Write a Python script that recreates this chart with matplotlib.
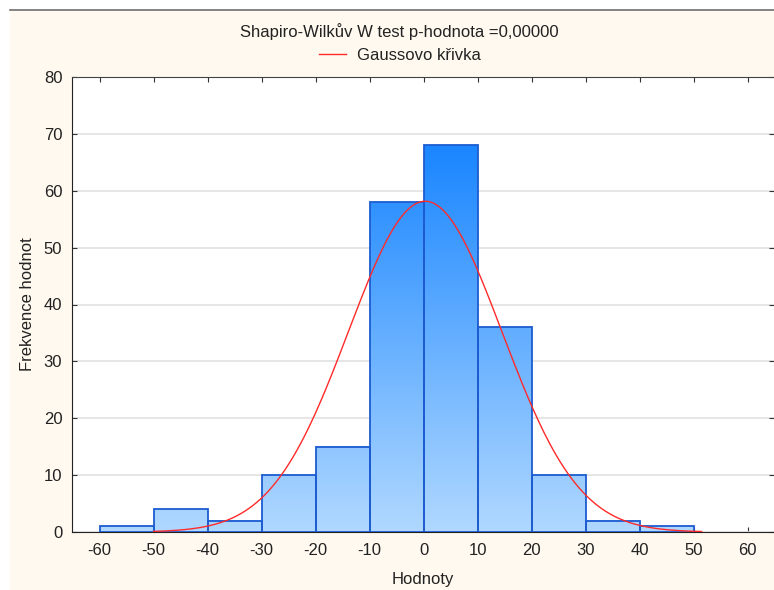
import matplotlib.pyplot as plt
import numpy as np
from matplotlib.colors import LinearSegmentedColormap
from matplotlib.patches import Rectangle
from matplotlib.lines import Line2D

plt.rcParams['font.family'] = ['Liberation Sans', 'DejaVu Sans']
plt.rcParams['axes.unicode_minus'] = False

# histogram data
bin_edges = [-60, -50, -40, -30, -20, -10, 0, 10, 20, 30, 40, 50]
counts = [1, 4, 2, 10, 15, 58, 68, 36, 10, 2, 1]

# fitted normal curve
curve_mean = 0.3
curve_sd = 14.2
curve_range = (-50, 51.5)

x_ticks = [-60, -50, -40, -30, -20, -10, 0, 10, 20, 30, 40, 50, 60]
y_ticks = [0, 10, 20, 30, 40, 50, 60, 70, 80]

title = 'Shapiro-Wilkův W test p-hodnota =0,00000'
legend_label = 'Gaussovo křivka'

fig = plt.figure(figsize=(7.74, 5.9), dpi=100)
fig.patch.set_facecolor('white')
# cream panel + top border like the original export
fig.patches.append(Rectangle((10/774, 0), 1, 1 - 10/590, transform=fig.transFigure,
                             facecolor='#fff9ef', edgecolor='none', zorder=-5))
fig.lines.append(Line2D([10/774, 1], [1 - 10/590, 1 - 10/590], transform=fig.transFigure,
                        color='#6e6e6e', lw=1.2))

ax = fig.add_axes([72/774, 1 - 532/590, 1 - 72/774, (532 - 77)/590])
ax.set_zorder(5)
ax.set_facecolor('white')

cmap = LinearSegmentedColormap.from_list('blu', ['#b0d8ff', '#1a86ff'])
top = max(counts)
for i, c in enumerate(counts):
    x0, x1 = bin_edges[i], bin_edges[i + 1]
    grad = np.linspace(0, c, 200).reshape(-1, 1)
    ax.imshow(grad, extent=[x0, x1, 0, c], origin='lower', cmap=cmap,
              vmin=0, vmax=top, aspect='auto', zorder=2)
    ax.add_patch(Rectangle((x0, 0), x1 - x0, c, fill=False,
                           edgecolor='#1c5cd0', lw=1.3, zorder=3))

binw = bin_edges[1] - bin_edges[0]
xs = np.linspace(curve_range[0], curve_range[1], 300)
ys = sum(counts) * binw / (curve_sd * np.sqrt(2 * np.pi)) * np.exp(-0.5 * ((xs - curve_mean) / curve_sd) ** 2)
ax.plot(xs, ys, color='#ff2a2a', lw=1.0, zorder=4)

ax.set_xlim(-65.1, 64.9)
ax.set_ylim(0, 80)
ax.set_xticks(x_ticks)
ax.set_yticks(y_ticks)
ax.yaxis.grid(True, color='#e2e2e2', lw=1.2)
ax.set_axisbelow(True)
ax.tick_params(direction='in', length=3.5, top=True, right=True, labelsize=12,
               colors='#333333', labelcolor='#222222')
ax.tick_params(axis='x', pad=8)
ax.tick_params(axis='y', pad=7)
for s in ['left', 'bottom']:
    ax.spines[s].set_color('#222222')
ax.spines['top'].set_color('#444444')
ax.spines['right'].set_visible(False)

ax.set_xlabel('Hodnoty', fontsize=12, color='#222222', labelpad=10)
ax.set_ylabel('Frekvence hodnot', fontsize=12, color='#222222', labelpad=6)

fig.text(399/774, 1 - 32/590, title, ha='center', va='center', fontsize=12, color='#222222')
handle = Line2D([], [], color='#ff2a2a', lw=1.0)
fig.legend([handle], [legend_label], loc='center', bbox_to_anchor=(400/774, 1 - 55/590),
           frameon=False, fontsize=12, handlelength=1.6, handletextpad=0.7,
           labelcolor='#222222')

fig.savefig('out.png', dpi=100, facecolor=fig.get_facecolor())
